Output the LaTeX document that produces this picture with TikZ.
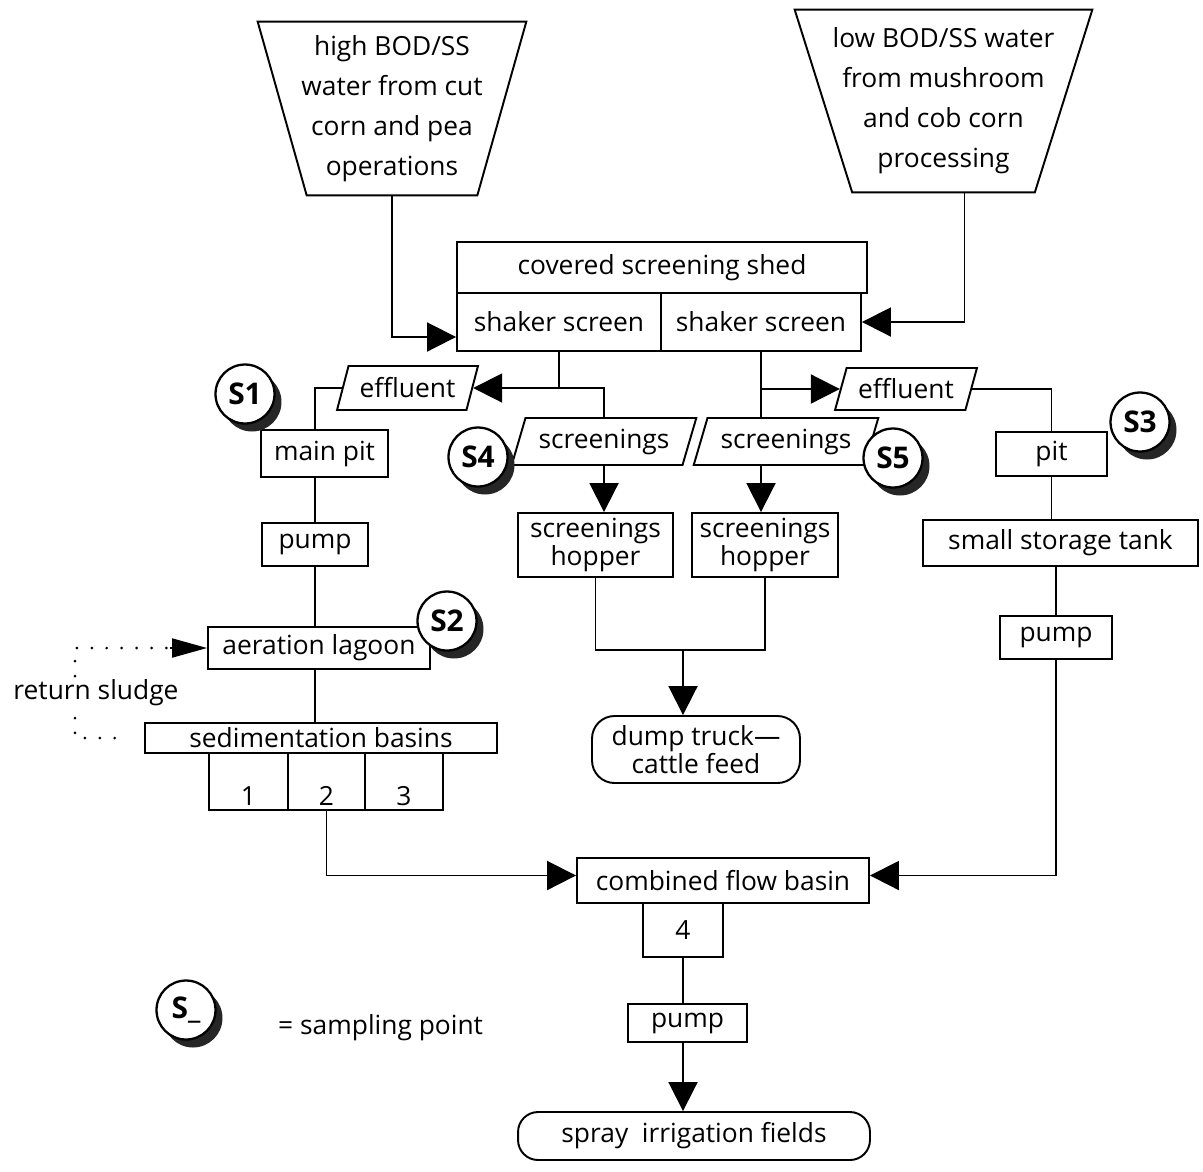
\documentclass[tikz,border=0pt]{standalone}
\usepackage{fontspec}
\setmainfont{Open Sans}
\usetikzlibrary{arrows.meta,positioning,shapes.geometric,shadows}

\tikzset{
  box/.style={draw,line width=1.1pt,inner sep=1pt,align=center},
  term/.style={box,rounded corners=0.45cm},
  slanted/.style={draw,line width=1.1pt,shape=trapezium,trapezium left angle=68,
    trapezium right angle=112,trapezium stretches=true,inner sep=1pt},
  source/.style={inner sep=0pt,align=center,font=\fontsize{15}{22.8}\selectfont},
  sample/.style={circle,draw,line width=1.3pt,fill=white,minimum size=1.18cm,inner sep=0pt,
    font=\fontsize{17}{19}\bfseries,
    drop shadow={shadow xshift=0.14cm,shadow yshift=-0.16cm,fill=black!85,opacity=1}},
  link/.style={line width=1.1pt},
  flow/.style={line width=1.1pt,-{Triangle[length=0.58cm,width=0.58cm]}},
  dots/.style={line width=1.7pt,line cap=round,dash pattern=on 0pt off 8.5pt}
}

\begin{document}
\begin{tikzpicture}[x=0.02cm,y=-0.02cm,font=\fontsize{15}{17}\selectfont]
  \useasboundingbox (0,0) rectangle (1203,1171);

  % incoming waters
  \node[source,minimum width=5.36cm,minimum height=3.46cm] (high) at (392,108.5)
    {high BOD/SS\\water from cut\\corn and pea\\operations};
  \node[source,minimum width=5.94cm,minimum height=3.64cm] (low) at (943.5,101)
    {low BOD/SS water\\from mushroom\\and cob corn\\processing};
  \draw[link] (high.north west) -- (high.north east) -- ([xshift=-0.98cm]high.south east)
    -- ([xshift=0.98cm]high.south west) -- cycle;
  \draw[link] (low.north west) -- (low.north east) -- ([xshift=-1.15cm]low.south east)
    -- ([xshift=1.15cm]low.south west) -- cycle;

  % screening shed
  \node[box,minimum width=8.2cm,minimum height=1.02cm] (shed) at (662,267.5) {covered screening shed};
  \node[box,minimum width=4.08cm,minimum height=1.16cm] (shakeL) at (559,322) {shaker screen};
  \node[box,minimum width=4cm,minimum height=1.16cm] (shakeR) at (761,322) {shaker screen};

  \node[slanted,minimum width=2.82cm,minimum height=0.88cm] (effL) at (407.5,388) {effluent};
  \node[slanted,minimum width=2.84cm,minimum height=0.84cm] (effR) at (906,389) {effluent};
  \node[slanted,minimum width=3.7cm,minimum height=0.94cm] (scrL) at (604,441.5) {screenings};
  \node[slanted,minimum width=3.7cm,minimum height=0.94cm] (scrR) at (786,441.5) {screenings};

  % left line
  \node[box,minimum width=2.54cm,minimum height=0.94cm] (mainpit) at (324.5,453.5) {main pit};
  \node[box,minimum width=2.12cm,minimum height=0.86cm] (pumpL) at (315,544.5) {pump};
  \node[box,minimum width=4.44cm,minimum height=0.84cm] (lagoon) at (319,648) {aeration lagoon};
  \node[box,minimum width=7.04cm,minimum height=0.6cm] (sed) at (321,738) {sedimentation basins};
  \node[box,minimum width=1.58cm,minimum height=1.14cm,label={[anchor=south,inner sep=3pt]south:1}]
    (bas1) at (248.5,781.5) {};
  \node[box,minimum width=1.54cm,minimum height=1.14cm,label={[anchor=south,inner sep=3pt]south:2}]
    (bas2) at (326.5,781.5) {};
  \node[box,minimum width=1.56cm,minimum height=1.14cm,label={[anchor=south,inner sep=3pt]south:3}]
    (bas3) at (404,781.5) {};

  % screenings
  \node[box,minimum width=3.1cm,minimum height=1.28cm,font=\fontsize{15}{13.5}\selectfont]
    (hopL) at (595.5,545) {screenings\\hopper};
  \node[box,minimum width=2.92cm,minimum height=1.28cm,font=\fontsize{15}{13.5}\selectfont]
    (hopR) at (765,545) {screenings\\hopper};
  \node[term,minimum width=4.16cm,minimum height=1.34cm,font=\fontsize{15}{14.5}\selectfont]
    (truck) at (696,749.5) {dump truck---\\cattle feed};
  \coordinate (join) at (683,650);

  % right line
  \node[box,minimum width=2.22cm,minimum height=0.88cm] (pit) at (1051.5,454) {pit};
  \node[box,minimum width=5.5cm,minimum height=0.92cm] (tank) at (1060.5,543) {small storage tank};
  \node[box,minimum width=2.24cm,minimum height=0.86cm] (pumpR) at (1056,637.5) {pump};

  % combined flow
  \node[box,minimum width=5.84cm,minimum height=0.9cm] (combo) at (723,880.5) {combined flow basin};
  \node[box,minimum width=1.6cm,minimum height=1.08cm] (bas4) at (683,930) {4};
  \node[box,minimum width=2.38cm,minimum height=0.76cm] (pumpC) at (687.5,1023) {pump};
  \node[term,minimum width=7.04cm,minimum height=0.96cm,rounded corners=0.4cm] (spray) at (694,1136)
    {spray\ \ irrigation fields};

  % connectors
  \draw[flow] (high.south) |- ([yshift=-0.3cm]shakeL.west);
  \draw[flow] ([xshift=0.42cm]low.south) |- (shakeR.east);
  \draw[flow] (shakeL.south) |- (effL.east);
  \draw[link] (shakeL.south |- effL.east) -| (scrL.north);
  \draw[link] (shakeR.south) -- (shakeR.south |- scrR.north);
  \draw[flow] (shakeR.south |- effR.west) -- (effR.west);
  \draw[flow] (scrL.south) -- (scrL.south |- hopL.north);
  \draw[flow] (scrR.south -| shakeR.south) -- (hopR.north -| shakeR.south);
  \draw[link] (hopL.south) |- (join) -| (hopR.south);
  \draw[flow] (join) -- (join |- truck.north);

  \draw[link] (effL.west) -| (pumpL.north |- mainpit.north);
  \draw[link] (pumpL.north |- mainpit.south) -- (pumpL.north);
  \draw[link] (pumpL.south) -- (pumpL.south |- lagoon.north);
  \draw[link] (pumpL.south |- lagoon.south) -- (pumpL.south |- sed.north);
  \draw[flow] (bas2.south) |- ([yshift=0.1cm]combo.west);

  \draw[link] (effR.east) -| (pit.north);
  \draw[link] (pit.south) -- (pit.south |- tank.north);
  \draw[link] (pumpR.north |- tank.south) -- (pumpR.north);
  \draw[flow] (pumpR.south) |- ([yshift=0.1cm]combo.east);

  \draw[link] (bas4.south) -- (bas4.south |- pumpC.north);
  \draw[flow] (pumpC.south -| bas4.south) -- (spray.north -| bas4.south);

  % return sludge
  \node (sludge) at (96,693) {return sludge};
  \coordinate (rsUp) at (75,676);
  \coordinate (rsDown) at (75,718);
  \draw[dots] (rsUp) |- ([xshift=-0.75cm]lagoon.west);
  \draw[line width=1.1pt,-{Triangle[length=0.7cm,width=0.38cm]}] ([xshift=-0.75cm]lagoon.west) -- (lagoon.west);
  \draw[dots] (rsDown) |- ([xshift=-0.3cm]sed.west);

  % sampling points
  \node[sample] (s1) at (245,394) {S1};
  \node[sample] (s2) at (447,621) {S2};
  \node[sample] (s3) at (1140,422) {S3};
  \node[sample] (s4) at (478,457) {S4};
  \node[sample] (s5) at (893,458) {S5};
  \node[sample] (skey) at (186,1010) {S\_};
  \node[anchor=west] (keytext) at (272,1028) {=\ sampling point};
\end{tikzpicture}
\end{document}
